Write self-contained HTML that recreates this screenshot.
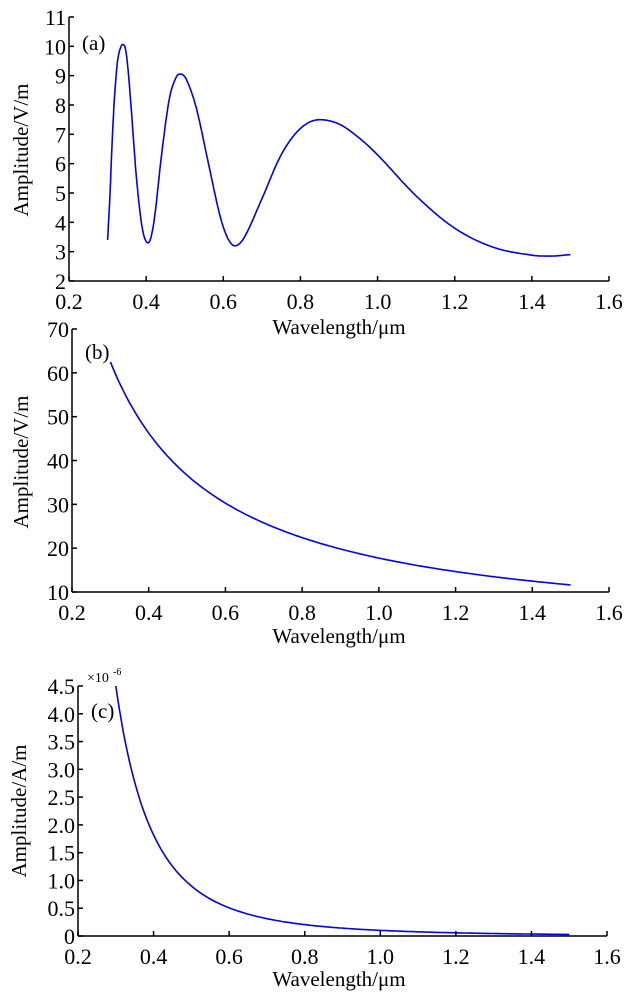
<!DOCTYPE html>
<html><head><meta charset="utf-8"><style>
body{margin:0;background:#fff}
svg{display:block}
text{font-family:"Liberation Serif",serif;fill:#000}
</style></head><body>
<svg id="s" width="626" height="1000" xmlns="http://www.w3.org/2000/svg">
<path id="pa" fill="none" stroke="#0000ee" stroke-width="1.6"/>
<path id="pb" fill="none" stroke="#0000ee" stroke-width="1.6"/>
<path id="pc" fill="none" stroke="#0000ee" stroke-width="1.6"/>
<g id="ax" stroke="#000" stroke-width="1.5" fill="none"></g>
<g id="tx" font-size="22"></g>
<text x="82" y="50" font-size="21">(a)</text>
<text x="85" y="359" font-size="21">(b)</text>
<text x="91" y="718" font-size="21">(c)</text>
<text x="87" y="682" font-size="14">×10</text><text x="113" y="675" font-size="10">-6</text>
<text x="339" y="334" font-size="21" text-anchor="middle">Wavelength/μm</text>
<text x="339" y="643" font-size="21" text-anchor="middle">Wavelength/μm</text>
<text x="339" y="986" font-size="21" text-anchor="middle">Wavelength/μm</text>
<text transform="translate(28,150) rotate(-90)" font-size="21" text-anchor="middle">Amplitude/V/m</text>
<text transform="translate(28,462) rotate(-90)" font-size="21" text-anchor="middle">Amplitude/V/m</text>
<text transform="translate(26,811) rotate(-90)" font-size="21" text-anchor="middle">Amplitude/A/m</text>
</svg>
<script>
var ax=document.getElementById('ax'),tx=document.getElementById('tx');
function L(x1,y1,x2,y2){ax.innerHTML+='<line x1="'+x1+'" y1="'+y1+'" x2="'+x2+'" y2="'+y2+'"/>';}
function T(x,y,s,a){tx.innerHTML+='<text x="'+x+'" y="'+y+'" text-anchor="'+a+'">'+s+'</text>';}
function panel(x0,x1,y0,y1,yt,ymin,ymax,fmt){
  L(x0,y0,x1,y0);L(x0,y0,x0,y1);
  for(var i=0;i<8;i++){var v=0.2+i*0.2,x=x0+(x1-x0)*i/7;L(x,y0,x,y0-5);T(x,y0+28,v.toFixed(1),'middle');}
  yt.forEach(function(v){var y=y0-(v-ymin)/(ymax-ymin)*(y0-y1);L(x0,y,x0+5,y);T(x0-3,y+8,fmt(v),'end');});
}
panel(69,609,281,17,[11,10,9,8,7,6,5,4,3,2],2,11,function(v){return v});
panel(72,609,592,329,[70,60,50,40,30,20,10],10,70,function(v){return v});
panel(78,607,936,686,[4.5,4,3.5,3,2.5,2,1.5,1,0.5,0],0,4.5,function(v){return v==0?'0':v.toFixed(1)});
function path(id,pts,x0,x1,y0,y1,ymin,ymax){
  var d='';pts.forEach(function(p,i){var x=x0+(p[0]-0.2)/1.4*(x1-x0),y=y0-(p[1]-ymin)/(ymax-ymin)*(y0-y1);d+=(i?'L':'M')+x.toFixed(1)+' '+y.toFixed(1);});
  document.getElementById(id).setAttribute('d',d);
}
var k=[[0.300,3.4],[0.305,4.6],[0.315,7.6],[0.325,9.4],[0.335,10.0],[0.342,10.05],[0.35,9.6],[0.36,8.1],[0.375,5.5],[0.39,3.8],[0.405,3.3],[0.42,4.0],[0.44,6.3],[0.46,8.2],[0.478,8.95],[0.49,9.05],[0.505,8.85],[0.53,7.9],[0.56,6.1],[0.59,4.3],[0.61,3.5],[0.63,3.2],[0.655,3.5],[0.70,4.8],[0.75,6.3],[0.80,7.2],[0.85,7.5],[0.90,7.35],[0.95,6.9],[1.0,6.3],[1.1,4.9],[1.2,3.8],[1.3,3.15],[1.4,2.88],[1.45,2.85],[1.5,2.9]];
var n=k.length,m=[];
for(var i=0;i<n;i++){var a=k[Math.max(0,i-1)],b=k[Math.min(n-1,i+1)];m.push((b[1]-a[1])/(b[0]-a[0]));}
[5,10,15,21,26,34].forEach(function(i){m[i]=0;});
var pa=[];
for(var i=0;i<n-1;i++){var x0=k[i][0],x1=k[i+1][0],h=x1-x0;
for(var t=0;t<1;t+=0.05){var t2=t*t,t3=t2*t;
var y=(2*t3-3*t2+1)*k[i][1]+(t3-2*t2+t)*h*m[i]+(-2*t3+3*t2)*k[i+1][1]+(t3-t2)*h*m[i+1];
pa.push([x0+t*h,y]);}}
pa.push(k[n-1]);
path('pa',pa,69,609,281,17,2,11);
var pb=[],pc=[];for(var l=0.3;l<=1.5001;l+=0.005){pb.push([l,62.5*Math.pow(0.3/l,1.046)]);pc.push([l,4.5*Math.pow(0.3/l,3.15)]);}
path('pb',pb,72,609,592,329,10,70);
path('pc',pc,78,607,936,686,0,4.5);
</script>
</body></html>
